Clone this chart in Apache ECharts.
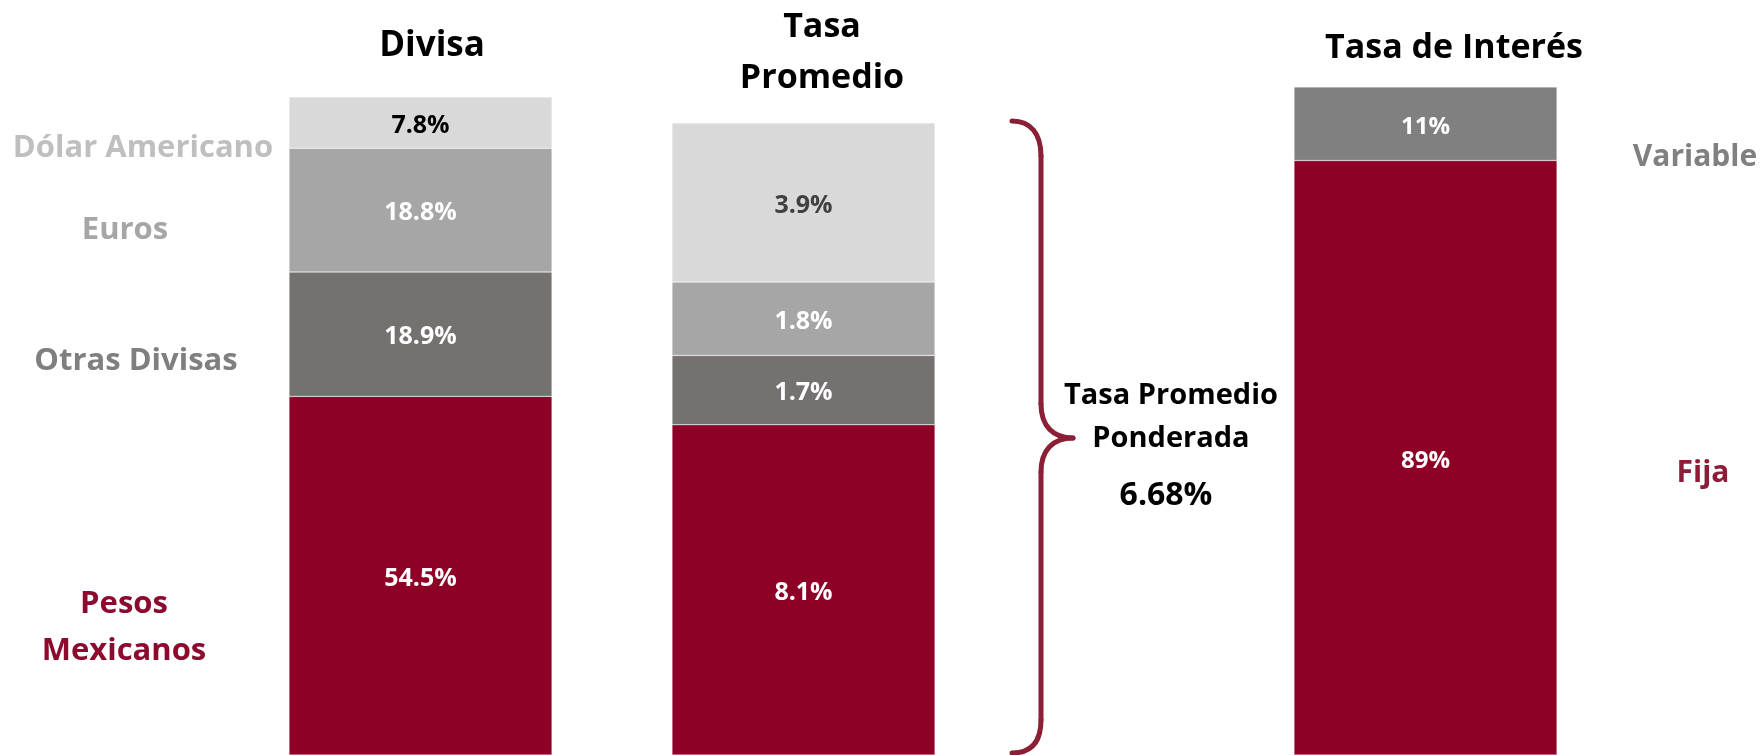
<!DOCTYPE html>
<html>
<head>
    <meta charset="utf-8">
    <title>Estructura de la deuda</title>
    <script src="https://cdn.jsdelivr.net/npm/echarts@6/dist/echarts.min.js"></script>
<style type="text/css">
html, body{
    margin: 0;
    padding: 0;
    background: #ffffff;
}
#chart{
    width: 1760px;
    height: 755px;
}
</style>
</head>

<body>
    <div id="chart"></div>
    <script>
        // Divisa (stacked from the bottom up)
        var divisaCats = ['Pesos Mexicanos', 'Otras Divisas', 'Euros', 'Dólar Americano'];
        var divisaValues = [54.5, 18.9, 18.8, 7.8];
        // Tasa promedio by currency, same order
        var tasaPromedioValues = [8.1, 1.7, 1.8, 3.9];
        // Tasa de interés
        var tasaCats = ['Fija', 'Variable'];
        var tasaValues = [89, 11];
        var panelTitles = ['Divisa', 'Tasa\nPromedio', 'Tasa de Interés'];
        var tasaPonderada = 6.68;

        var RED = '#8f0026';
        var FONT = '"Open Sans", "Noto Sans", sans-serif';
        var divisaColors = [RED, '#767171', '#a6a6a6', '#d9d9d9'];
        var divisaLabelColors = ['#ffffff', '#ffffff', '#ffffff', '#000000'];
        var promedioLabelColors = ['#ffffff', '#ffffff', '#ffffff', '#404040'];
        var tasaColors = [RED, '#808080'];

        var sum = arr => arr.reduce((a, b) => a + b, 0);

        var chart = echarts.init(document.getElementById('chart'), null, {renderer: 'canvas'});

        var grids = [
            {left: 289, width: 263, top: 97, bottom: 0},
            {left: 672, width: 263, top: 123, bottom: 0},
            {left: 1294, width: 263, top: 87, bottom: 0}
        ];
        var totals = [sum(divisaValues), sum(tasaPromedioValues), sum(tasaValues)];

        var xAxes = grids.map((g, i) => ({gridIndex: i, type: 'category', data: [panelTitles[i]], show: false}));
        var yAxes = grids.map((g, i) => ({gridIndex: i, type: 'value', min: 0, max: totals[i], show: false}));

        var makeLabel = (color, size, fmt) => ({
            show: true,
            position: 'inside',
            offset: [0, 3],
            color: color,
            fontFamily: FONT,
            fontWeight: 'bold',
            fontSize: size,
            formatter: fmt
        });

        var series = [];
        divisaCats.forEach((name, k) => {
            series.push({
                name: name, type: 'bar', xAxisIndex: 0, yAxisIndex: 0, stack: 'divisa',
                barWidth: '100%',
                data: [divisaValues[k]],
                itemStyle: {color: divisaColors[k], borderColor: 'rgba(255,255,255,0.6)', borderWidth: 0.5},
                label: makeLabel(divisaLabelColors[k], 25, p => p.value.toFixed(1) + '%')
            });
            series.push({
                name: name, type: 'bar', xAxisIndex: 1, yAxisIndex: 1, stack: 'promedio',
                barWidth: '100%',
                data: [tasaPromedioValues[k]],
                itemStyle: {color: divisaColors[k], borderColor: 'rgba(255,255,255,0.6)', borderWidth: 0.5},
                label: makeLabel(promedioLabelColors[k], 25, p => p.value.toFixed(1) + '%')
            });
        });
        tasaCats.forEach((name, k) => {
            series.push({
                name: name, type: 'bar', xAxisIndex: 2, yAxisIndex: 2, stack: 'tasa',
                barWidth: '100%',
                data: [tasaValues[k]],
                itemStyle: {color: tasaColors[k], borderColor: 'rgba(255,255,255,0.6)', borderWidth: 0.5},
                label: makeLabel('#ffffff', 24, p => p.value + '%')
            });
        });

        var txt = (text, x, y, size, color, lineHeight) => ({
            type: 'text', x: x, y: y, silent: true,
            style: {
                text: text,
                fill: color,
                font: 'bold ' + size + 'px ' + FONT,
                lineHeight: lineHeight || size,
                textAlign: 'center', textVerticalAlign: 'middle'
            }
        });

        // curly brace pieces
        var BRACE = {stroke: '#8b1f35', lineWidth: 5, fill: null, lineCap: 'round'};
        var curve = (x1, y1, cx1, cy1, cx2, cy2, x2, y2) => ({
            type: 'bezierCurve', silent: true,
            shape: {x1: x1, y1: y1, cpx1: cx1, cpy1: cy1, cpx2: cx2, cpy2: cy2, x2: x2, y2: y2},
            style: BRACE
        });
        var seg = (x1, y1, x2, y2) => ({
            type: 'line', silent: true,
            shape: {x1: x1, y1: y1, x2: x2, y2: y2},
            style: BRACE
        });

        var graphics = [
            // panel titles
            txt(panelTitles[0], 432, 46, 35, '#000000'),
            txt(panelTitles[1], 822, 53, 34, '#000000', 51),
            txt(panelTitles[2], 1454, 48, 34, '#000000'),
            // currency names
            txt(divisaCats[3], 143, 148, 31, '#bfbfbf'),
            txt(divisaCats[2], 125, 230, 31, '#a6a6a6'),
            txt(divisaCats[1], 136, 361, 31, '#7f7f7f'),
            txt(divisaCats[0].replace(' ', '\n'), 124, 628, 31, '#8c0a2e', 47),
            // rate type names
            txt(tasaCats[1], 1695, 157, 30, '#808080'),
            txt(tasaCats[0], 1703, 473, 30, '#8e1b38'),
            // weighted average
            txt('Tasa Promedio\nPonderada', 1171, 417, 29, '#000000', 43),
            txt(tasaPonderada.toFixed(2) + '%', 1166, 496, 32, '#000000'),
            // brace
            curve(1012, 121, 1031, 121, 1041, 134, 1041, 156),
            seg(1041, 156, 1041, 404),
            curve(1041, 404, 1041, 426, 1053, 438, 1073, 438),
            curve(1073, 438, 1053, 438, 1041, 450, 1041, 472),
            seg(1041, 472, 1041, 720),
            curve(1041, 720, 1041, 742, 1031, 753, 1012, 753)
        ];

        chart.setOption({
            animation: false,
            backgroundColor: '#ffffff',
            grid: grids,
            xAxis: xAxes,
            yAxis: yAxes,
            series: series,
            graphic: graphics
        });
    </script>
</body>
</html>
